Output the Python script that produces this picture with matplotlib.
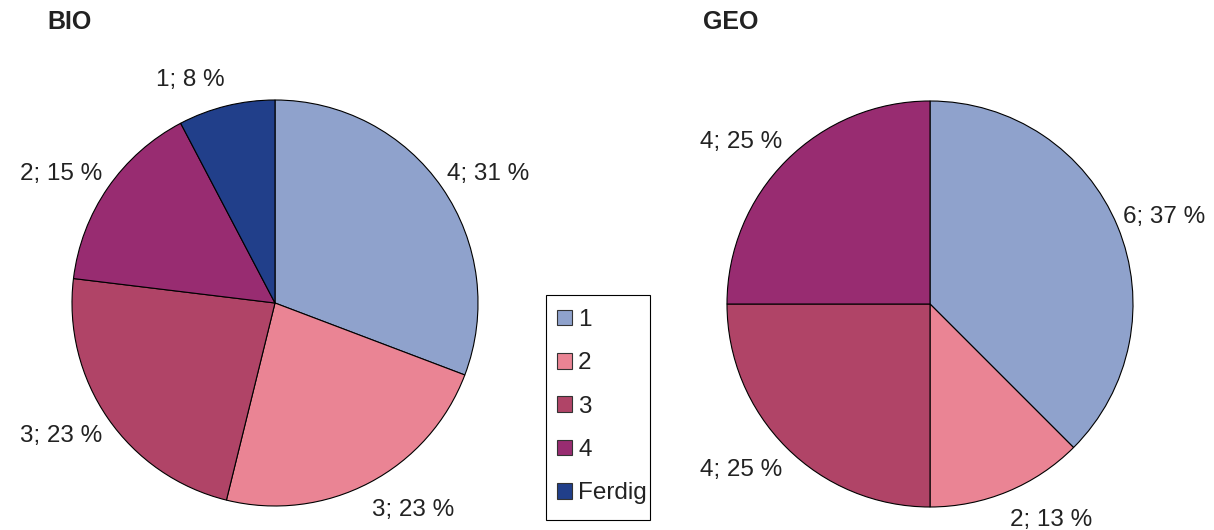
import matplotlib
matplotlib.use("Agg")
import matplotlib.pyplot as plt
from matplotlib.patches import Patch, Rectangle
import numpy as np

plt.rcParams['font.family'] = ['Liberation Sans', 'DejaVu Sans']

# données
categories = ['1', '2', '3', '4', 'Ferdig']
couleurs = ['#8FA2CC', '#EA8494', '#B04467', '#982C71', '#213F8A']

bio_valeurs = [4, 3, 3, 2, 1]
bio_pct = [31, 23, 23, 15, 8]

geo_valeurs = [6, 2, 4, 4]
geo_pct = [37, 13, 25, 25]

W, H = 1214, 530
fig = plt.figure(figsize=(W / 100, H / 100), dpi=100)
ax = fig.add_axes([0, 0, 1, 1])

couleur_texte = '#222222'
rayon = 203


def camembert(valeurs, pct, centre):
    labels = ['{}; {} %'.format(v, p) for v, p in zip(valeurs, pct)]
    wedges, textes = ax.pie(valeurs, labels=labels, colors=couleurs[:len(valeurs)],
                            startangle=90, counterclock=False, center=centre,
                            radius=rayon, labeldistance=1.14, frame=True,
                            wedgeprops=dict(edgecolor='black', linewidth=0.8),
                            textprops=dict(fontsize=17.5, color=couleur_texte))
    # alignement gauche/droite selon le côté, étiquettes un peu rapprochées (style Excel)
    for w, t in zip(wedges, textes):
        ang = np.deg2rad((w.theta1 + w.theta2) / 2)
        c = np.cos(ang)
        t.set_ha('left' if c > 0 else 'right')
        x, y = t.get_position()
        t.set_position((x - 22 * c, y - 2))


camembert(bio_valeurs, bio_pct, (275, H - 303))
camembert(geo_valeurs, geo_pct, (930, H - 304))

ax.set_xlim(0, W)
ax.set_ylim(0, H)
ax.set_aspect('equal')
ax.axis('off')

fig.text(47 / W, 1 - 22 / H, 'BIO', fontsize=18, fontweight='bold',
         color=couleur_texte, va='center', ha='left')
fig.text(703 / W, 1 - 22 / H, 'GEO', fontsize=18, fontweight='bold',
         color=couleur_texte, va='center', ha='left')

# légende sans cadre + cadre dessiné à part (padding droit réduit comme dans Excel)
handles = [Patch(facecolor=c, edgecolor='#333333', linewidth=0.8) for c in couleurs]
leg = fig.legend(handles, categories, loc='upper left',
                 bbox_to_anchor=(546 / W, 1 - 298 / H), borderaxespad=0,
                 fontsize=17.5, handlelength=0.62, handleheight=0.62,
                 handletextpad=0.25, labelspacing=0.88, frameon=False,
                 borderpad=0.45)
for t in leg.get_texts():
    t.set_color(couleur_texte)
fig.patches.append(Rectangle((546 / W, 1 - 520 / H), 104 / W, 225 / H,
                             transform=fig.transFigure, fill=False,
                             edgecolor='black', linewidth=0.8))

fig.savefig('out.png', dpi=100)
